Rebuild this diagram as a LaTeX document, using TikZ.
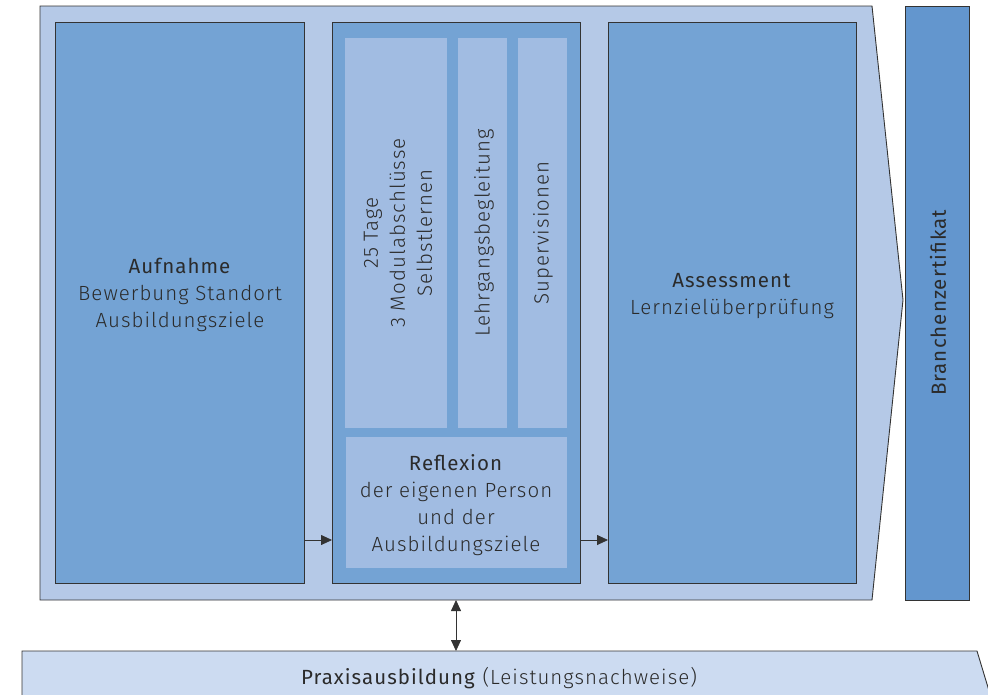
\documentclass[tikz,border=0pt]{standalone}
\usepackage{fontspec}
\setmainfont{Fira Sans Light}[BoldFont={Fira Sans}, LetterSpace=5]
\newfontfamily\regfont{Fira Sans}[LetterSpace=5]
\usetikzlibrary{arrows.meta}
\definecolor{outerC}{HTML}{B5C9E7}
\definecolor{boxC}{HTML}{74A3D4}
\definecolor{subC}{HTML}{A1BCE2}
\definecolor{certC}{HTML}{6396CE}
\definecolor{bandC}{HTML}{CCDBF1}
\definecolor{txtC}{HTML}{2B2B2B}
\definecolor{lineC}{HTML}{333333}
\tikzset{
  frame/.style={draw=lineC, line width=0.9pt},
  lbl/.style={text=txtC, font=\fontsize{20.5}{27}\selectfont, align=center, inner sep=0pt},
  arr/.style={draw=lineC, line width=0.8pt, -{Triangle[length=11pt,width=10pt]}},
  darr/.style={draw=lineC, line width=0.8pt, {Triangle[length=11pt,width=10pt]}-{Triangle[length=11pt,width=10pt]}}
}
\begin{document}
\begin{tikzpicture}[x=1pt,y=-1pt]
\useasboundingbox (0,0) rectangle (988,694);
\clip (0,0) rectangle (988,694);
% outer arrow
\path[frame, fill=outerC] (40,6) -- (872,6) -- (903,300) -- (872,600) -- (40,600) -- cycle;
% Aufnahme
\node[frame, fill=boxC, minimum width=249pt, minimum height=561pt, anchor=north west, inner sep=0pt] (auf) at (55,22) {};
\node[lbl] at (180,295) {\textbf{Aufnahme}\\Bewerbung Standort\\Ausbildungsziele};
% middle
\node[frame, fill=boxC, minimum width=248pt, minimum height=561pt, anchor=north west, inner sep=0pt] (mid) at (332,22) {};
\fill[subC] (345,38) rectangle (447,428);
\fill[subC] (458,38) rectangle (507,428);
\fill[subC] (518,38) rectangle (567,428);
\fill[subC] (346,437) rectangle (567,568);
\node[lbl, rotate=90] (s1) at (398,233) {25 Tage\\3 Modulabschlüsse\\Selbstlernen};
\node[lbl, rotate=90] (s2) at (484,233) {Lehrgangsbegleitung};
\node[lbl, rotate=90] (s3) at (543,233) {Supervisionen};
\node[lbl] (refl) at (456,505) {\textbf{Reflexion}\\der eigenen Person\\und der\\Ausbildungsziele};
% Assessment
\node[frame, fill=boxC, minimum width=248pt, minimum height=561pt, anchor=north west, inner sep=0pt] (ass) at (608,22) {};
\node[lbl] at (732,296) {\textbf{Assessment}\\Lernzielüberprüfung};
% certificate
\node[frame, fill=certC, minimum width=64pt, minimum height=594pt, anchor=north west, inner sep=0pt] (cert) at (905,6) {};
\node[lbl, rotate=90] at (938,303) {\regfont Branchenzertifikat};
% bottom band
\path[frame, fill=bandC] (22,651) -- (977,651) -- (990,694) -- (977,737) -- (22,737) -- cycle;
\node[lbl] (prax) at (499,678) {\textbf{Praxisausbildung} (Leistungsnachweise)};
% arrows
\coordinate (a1s) at (304,540);
\coordinate (a1e) at (332,540);
\coordinate (a2s) at (580,540);
\coordinate (a2e) at (608,540);
\coordinate (d1) at (456,600);
\coordinate (d2) at (456,651);
\draw[arr] (a1s) -- (a1e);
\draw[arr] (a2s) -- (a2e);
\draw[darr] (d1) -- (d2);
\end{tikzpicture}
\end{document}
